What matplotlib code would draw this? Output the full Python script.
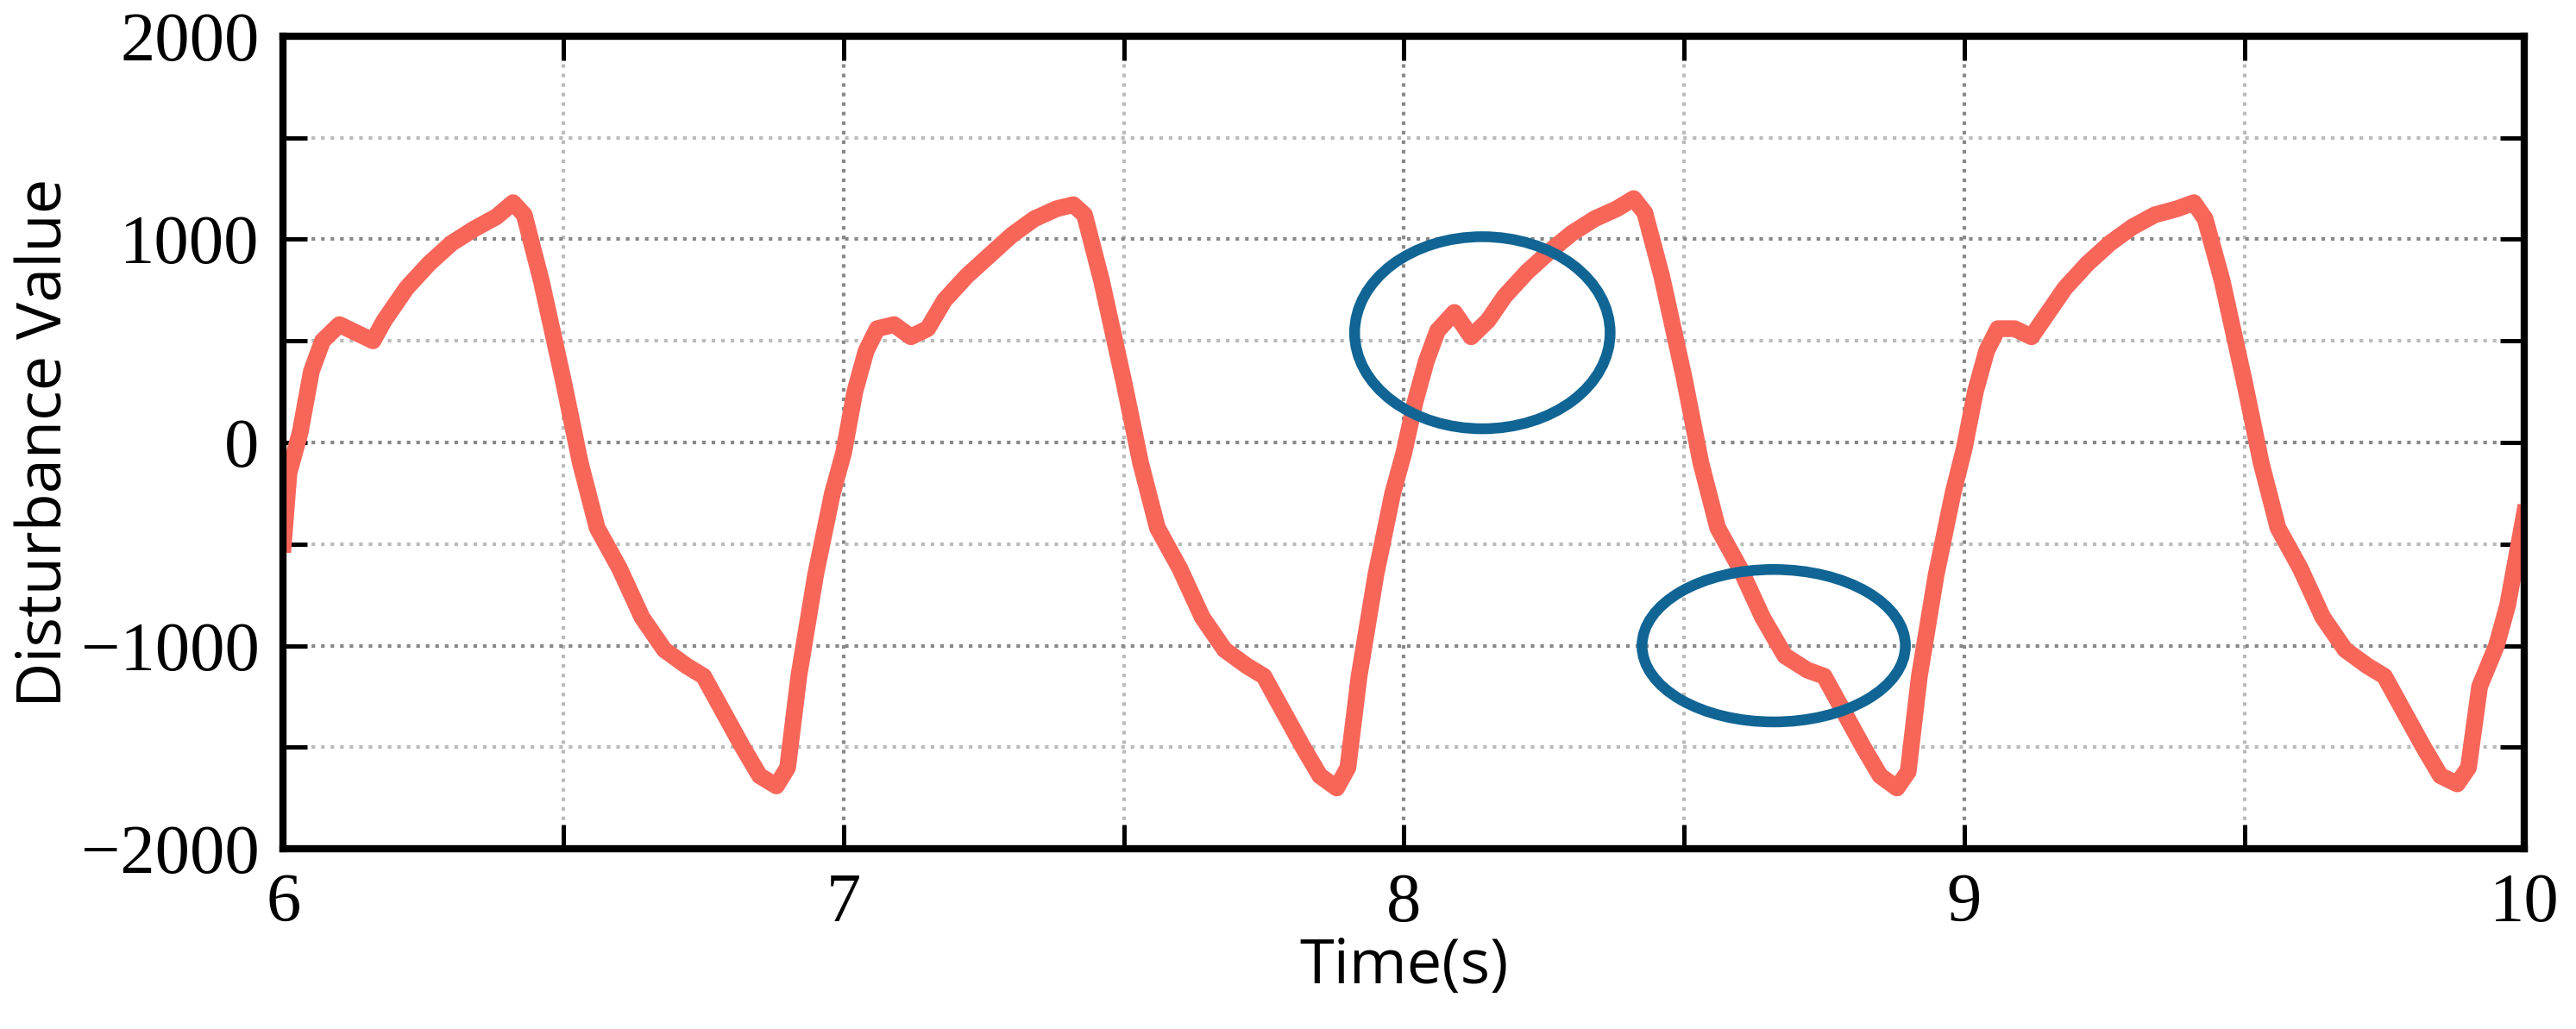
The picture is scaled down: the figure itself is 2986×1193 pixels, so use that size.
import matplotlib
matplotlib.use("Agg")
import matplotlib.pyplot as plt
from matplotlib.patches import Ellipse

time_s = [6.00, 6.01, 6.03, 6.05, 6.07, 6.10, 6.13, 6.16, 6.18, 6.22, 6.26, 6.30, 6.34, 6.38, 6.41, 6.43, 6.46, 6.50, 6.53, 6.56, 6.60, 6.64, 6.68, 6.72, 6.75, 6.78, 6.82, 6.85, 6.88, 6.90, 6.92, 6.95, 6.98,
          7.00, 7.02, 7.04, 7.06, 7.09, 7.12, 7.15, 7.18, 7.22, 7.26, 7.30, 7.34, 7.38, 7.41, 7.43, 7.46, 7.50, 7.53, 7.56, 7.60, 7.64, 7.68, 7.72, 7.75, 7.78, 7.82, 7.85, 7.88, 7.90, 7.92, 7.95, 7.98,
          8.00, 8.02, 8.04, 8.06, 8.09, 8.12, 8.15, 8.18, 8.22, 8.26, 8.30, 8.34, 8.38, 8.41, 8.43, 8.46, 8.50, 8.53, 8.56, 8.60, 8.64, 8.68, 8.72, 8.75, 8.78, 8.82, 8.85, 8.88, 8.90, 8.92, 8.95, 8.98,
          9.00, 9.02, 9.04, 9.06, 9.09, 9.12, 9.15, 9.18, 9.22, 9.26, 9.30, 9.34, 9.38, 9.41, 9.43, 9.46, 9.50, 9.53, 9.56, 9.60, 9.64, 9.68, 9.72, 9.75, 9.78, 9.82, 9.85, 9.88, 9.90, 9.92, 9.95, 9.97, 10.00]
disturbance = [-500, -150, 50, 350, 500, 580, 540, 500, 600, 760, 880, 980, 1050, 1110, 1180, 1120, 800, 300, -100, -420, -620, -860, -1020, -1100, -1150, -1300, -1500, -1640, -1690, -1600, -1150, -650, -250,
               -50, 250, 450, 560, 580, 520, 560, 700, 820, 920, 1020, 1100, 1150, 1170, 1120, 800, 300, -100, -420, -620, -860, -1020, -1100, -1150, -1300, -1500, -1640, -1700, -1600, -1150, -650, -250,
               -50, 200, 400, 550, 640, 520, 600, 720, 840, 940, 1030, 1100, 1150, 1200, 1130, 820, 320, -100, -420, -620, -860, -1050, -1120, -1150, -1300, -1500, -1640, -1700, -1620, -1150, -650, -250,
               -30, 250, 450, 560, 560, 520, 640, 760, 880, 980, 1060, 1120, 1150, 1180, 1100, 800, 300, -100, -420, -620, -860, -1020, -1100, -1150, -1300, -1500, -1640, -1680, -1600, -1200, -1000, -800, -350]

ellipse_centers = [(8.14, 540), (8.66, -1000)]
ellipse_sizes = [(0.456, 945), (0.47, 750)]

fig = plt.figure(figsize=(14.93, 5.965), dpi=200)
ax = fig.add_axes([0.110, 0.175, 0.870, 0.790])
ax.plot(time_s, disturbance, color="#f8665a", lw=7, solid_joinstyle="round")
for c, s in zip(ellipse_centers, ellipse_sizes):
    ax.add_patch(Ellipse(c, s[0], s[1], fill=False, ec="#116594", lw=4.5, zorder=5))

ax.set_xlim(6, 10)
ax.set_ylim(-2000, 2000)
ax.set_xticks([6, 7, 8, 9, 10])
ax.set_yticks([-2000, -1000, 0, 1000, 2000])
ax.set_xticks([6.5, 7.5, 8.5, 9.5], minor=True)
ax.set_yticks([-1500, -500, 500, 1500], minor=True)
ax.set_yticklabels(["\u22122000", "\u22121000", "0", "1000", "2000"])
ax.grid(True, which="major", ls=":", color="#888888", lw=1.5)
ax.grid(True, which="minor", ls=":", color="#bbbbbb", lw=1.5)
ax.tick_params(which="both", direction="in", top=True, right=True, length=10, width=1.8,
               labelsize=29, pad=10)
ax.tick_params(which="minor", length=10)
for lab in ax.get_xticklabels() + ax.get_yticklabels():
    lab.set_family("Liberation Serif")
for sp in ax.spines.values():
    sp.set_linewidth(3)
ax.set_xlabel("Time(s)", fontsize=26, family="Open Sans", labelpad=0)
ax.set_ylabel("Disturbance Value", fontsize=26, family="Open Sans", labelpad=2)
fig.savefig("out.png", dpi=200)
